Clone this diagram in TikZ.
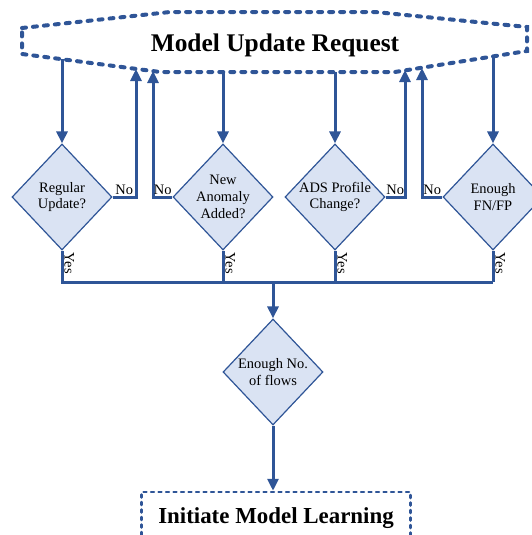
\documentclass[tikz,border=0pt]{standalone}
\usepackage{fontspec}
\setmainfont{Liberation Serif}
\usepackage{tikz}
\usetikzlibrary{shapes,arrows.meta}

\definecolor{linkblue}{HTML}{2F5597}
\definecolor{askfill}{HTML}{DAE3F3}

\begin{document}
\begin{tikzpicture}[
  decision/.style={draw=linkblue,line width=1.2bp,diamond,fill=askfill,minimum width=100bp,minimum height=106bp,inner sep=-10bp,align=center,font=\fontsize{14.5}{17}\selectfont},
  flow/.style={draw=linkblue,line width=3bp,-{Triangle[width=11bp,length=12bp]}},
  wire/.style={draw=linkblue,line width=3bp},
  tag/.style={font=\fontsize{14.5}{17}\selectfont,inner sep=1bp},
  yestag/.style={tag,rotate=-90,anchor=south,pos=0.4}]
\useasboundingbox (0,0) rectangle (532bp,-535bp);
\clip (0,0) rectangle (532bp,-535bp);

% request outline
\draw [linkblue,line width=4bp,line cap=round,dash pattern=on 4bp off 7bp] (22bp,-28bp) -- (170bp,-12bp) -- (375bp,-12bp) -- (527bp,-27bp) -- (527bp,-51bp) -- (395bp,-72bp) -- (160bp,-72bp) -- (22bp,-54bp) -- cycle;
\node (req) at (275bp,-45bp)[font=\bfseries\fontsize{25.5}{30}\selectfont] {Model Update Request};

\coordinate (t1) at (62bp,-59bp);
\coordinate (t2) at (223bp,-72bp);
\coordinate (t3) at (335bp,-72bp);
\coordinate (t4) at (493bp,-56bp);
\coordinate (u1) at (136bp,-69bp);
\coordinate (u2) at (153bp,-71bp);
\coordinate (u3) at (405bp,-70bp);
\coordinate (u4) at (422bp,-68bp);

\node (q1) at (62bp,-197bp)[decision] {Regular\\Update?};
\node (q2) at (223bp,-197bp)[decision] {New\\Anomaly\\Added?};
\node (q3) at (335bp,-197bp)[decision] {ADS Profile\\Change?};
\node (q4) at (493bp,-197bp)[decision] {Enough\\FN/FP};
\node (q5) at (273bp,-372bp)[decision] {Enough No.\\of flows};
\node (learn) at (276bp,-518bp)[draw=linkblue,line width=2.5bp,line cap=round,dash pattern=on 3bp off 4.5bp,minimum width=269bp,minimum height=52bp,font=\bfseries\fontsize{23}{27}\selectfont] {Initiate Model Learning};

\draw [flow] (t1) -- (q1);
\draw [flow] (t2) -- (q2);
\draw [flow] (t3) -- (q3);
\draw [flow] (t4) -- (q4);

\draw [flow] (q1.east) -| node[pos=0.25,above,tag] {No} (u1);
\draw [flow] (q2.west) -| node[pos=0.25,above,tag] {No} (u2);
\draw [flow] (q3.east) -| node[pos=0.25,above,tag] {No} (u3);
\draw [flow] (q4.west) -| node[pos=0.25,above,tag] {No} (u4);

% yes bus
\coordinate (j1) at (62bp,-282bp);
\coordinate (j4) at (493bp,-282bp);
\coordinate (jc) at (273bp,-282bp);
\draw [wire] (q1.south) -- node[yestag] {Yes} (j1) -- (j4);
\draw [wire] (q2.south) -- node[yestag] {Yes} (q2.south |- j1);
\draw [wire] (q3.south) -- node[yestag] {Yes} (q3.south |- j1);
\draw [wire] (q4.south) -- node[yestag] {Yes} (j4);
\draw [flow] (jc) -- (q5);
\draw [flow] (q5.south) -- (q5.south |- learn.north);
\end{tikzpicture}
\end{document}
